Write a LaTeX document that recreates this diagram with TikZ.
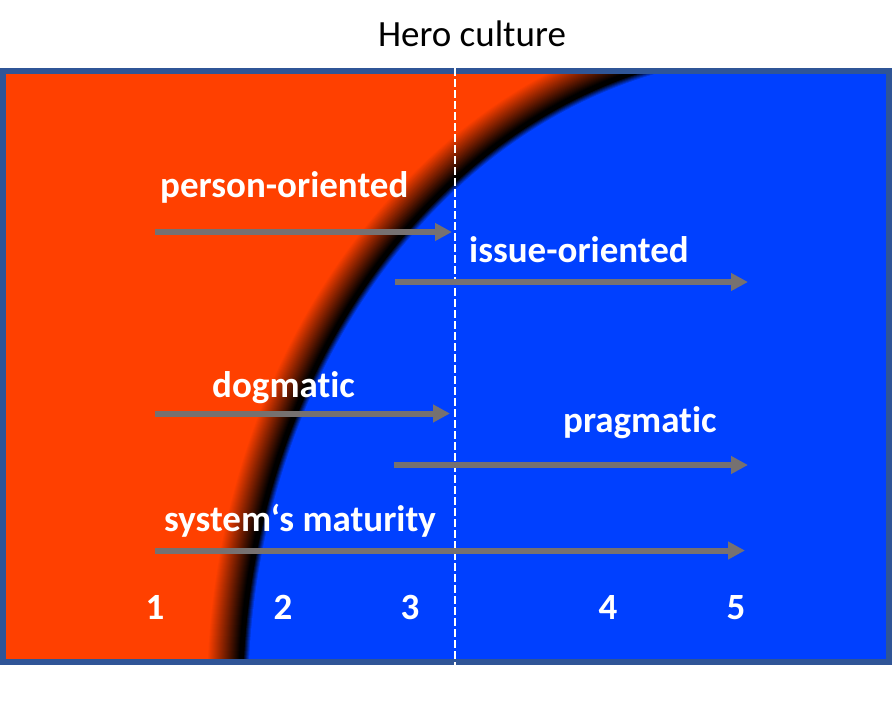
\documentclass[tikz,border=0pt]{standalone}
\usepackage{fontspec}
\setmainfont{Carlito}[Ligatures=NoCommon]
\usetikzlibrary{arrows.meta}
\definecolor{hotorange}{RGB}{255,64,0}
\definecolor{coolblue}{RGB}{0,64,255}
\definecolor{frameblue}{RGB}{47,85,151}
\definecolor{arrowgray}{RGB}{118,113,113}

\begin{document}
\begin{tikzpicture}[x=1pt, y=-1pt,
  title/.style={font=\fontsize{37}{44}\selectfont, inner sep=0pt, anchor=base},
  lbl/.style={text=white, font=\fontsize{37}{44}\selectfont\bfseries, inner sep=0pt, anchor=base west},
  num/.style={text=white, font=\fontsize{37}{44}\selectfont\bfseries, inner sep=0pt, anchor=base},
  trend/.style={-{Triangle[length=17pt, width=17pt]}, draw=arrowgray, line width=6pt},
  divider/.style={draw=white, line width=2pt, dash pattern=on 8pt off 3pt}
]
  \useasboundingbox (0,0) rectangle (892,720);

  % two cultures, soft curved border between them
  \begin{scope}
    \clip (3,71) rectangle (889,662);
    \fill[hotorange] (3,71) rectangle (889,662);
    \foreach \d in {40,39,...,0}{
      \pgfmathsetmacro{\mix}{min(100,max(0,(\d-4)*100/32))}
      \pgfmathsetmacro{\rx}{538+\d}
      \pgfmathsetmacro{\ry}{650+\d}
      \fill[hotorange!\mix!black] (780,700) ellipse [x radius=\rx*1pt, y radius=\ry*1pt];
    }
    \foreach \d in {1,...,6}{
      \pgfmathsetmacro{\mix}{\d*100/6}
      \pgfmathsetmacro{\rx}{538-\d}
      \pgfmathsetmacro{\ry}{650-\d}
      \fill[coolblue!\mix!black] (780,700) ellipse [x radius=\rx*1pt, y radius=\ry*1pt];
    }
  \end{scope}
  \draw[frameblue, line width=6pt] (3,71) rectangle (889,662);

  \node[title] (hero) at (472,46.5) {Hero culture};
  \coordinate (divtop) at (455,68);
  \coordinate (divbot) at (455,665);
  \draw[divider] (divtop) -- (divbot);

  % labels
  \node[lbl] (person)   at (160,197) {person-oriented};
  \node[lbl] (issue)    at (469,262) {issue-oriented};
  \node[lbl] (dogma)    at (212,397) {dogmatic};
  \node[lbl] (pragma)   at (563,432) {pragmatic};
  \node[lbl] (maturity) at (164,531) {system‘s maturity};

  % arrows
  \coordinate (person-s) at (155,232);   \coordinate (person-e) at (452,232);
  \coordinate (issue-s)  at (395,282);   \coordinate (issue-e)  at (748,282);
  \coordinate (dogma-s)  at (155,413.5); \coordinate (dogma-e)  at (450,413.5);
  \coordinate (pragma-s) at (394,465);   \coordinate (pragma-e) at (748,465);
  \coordinate (mature-s) at (155,550.5); \coordinate (mature-e) at (745,550.5);
  \draw[trend] (person-s) -- (person-e);
  \draw[trend] (issue-s)  -- (issue-e);
  \draw[trend] (dogma-s)  -- (dogma-e);
  \draw[trend] (pragma-s) -- (pragma-e);
  \draw[trend] (mature-s) -- (mature-e);

  % scale
  \node[num] (n1) at (155,619) {1};
  \node[num] (n2) at (283,619) {2};
  \node[num] (n3) at (410,619) {3};
  \node[num] (n4) at (608,619) {4};
  \node[num] (n5) at (736,619) {5};
\end{tikzpicture}
\end{document}
